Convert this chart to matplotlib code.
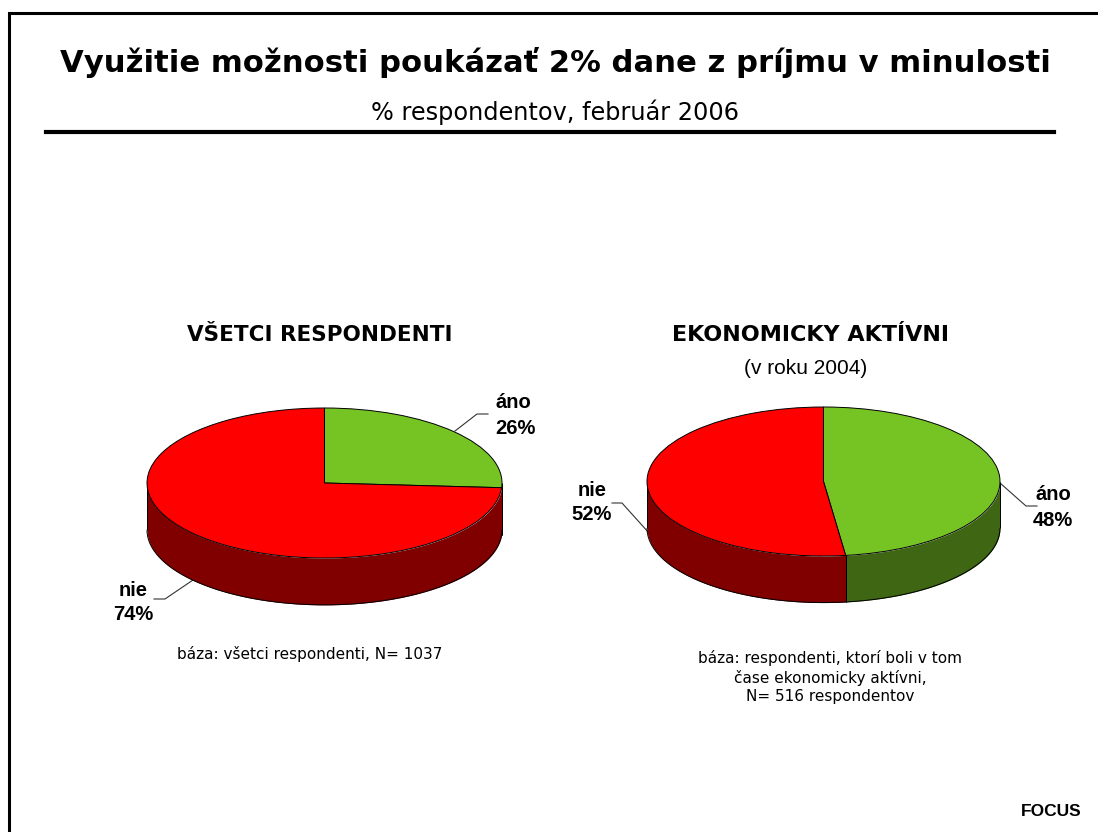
"""Two 3D-style pies: use of the 2% tax assignment, Focus survey, February 2006."""

from __future__ import annotations

import numpy as np
import matplotlib
matplotlib.use("Agg")
import matplotlib.pyplot as plt

W, H = 1098, 832

LABELS = ["áno", "nie"]
ALL_RESPONDENTS = [26, 74]
ECON_ACTIVE = [48, 52]

TOP_COLORS = ["#76c424", "#ff0000"]
SIDE_COLORS = ["#3e6613", "#800000"]

TITLE = "Využitie možnosti poukázať 2% dane z príjmu v minulosti"
SUBTITLE = "% respondentov, február 2006"
LEFT_HEAD = "VŠETCI RESPONDENTI"
RIGHT_HEAD = "EKONOMICKY AKTÍVNI"
RIGHT_SUB = "(v roku 2004)"
LEFT_BASE = "báza: všetci respondenti, N= 1037"
RIGHT_BASE = "báza: respondenti, ktorí boli v tom\nčase ekonomicky aktívni,\nN= 516 respondentov"

DEPTH = 0.625  # wall height in units of the vertical radius


def draw_pie(fig, values, cx, cy, rx, ry):
    # axes is stretched so that the unit circle comes out as the flat ellipse
    bottom = cy + ry + DEPTH * ry
    ax = fig.add_axes([(cx - rx) / W, 1 - bottom / H, 2 * rx / W, (bottom - cy + ry) / H])
    start = 90.0
    for val, side in zip(values, SIDE_COLORS):
        end = start - val * 3.6
        # only the front half of the rim (0 to -180 deg) shows a wall
        a, b = max(end, -180.0), min(start, 0.0)
        if b > a:
            t = np.radians(np.linspace(a, b, 200))
            ax.fill_between(np.cos(t), np.sin(t), np.sin(t) - DEPTH, color=side, lw=0, zorder=1)
            ax.plot(np.cos(t), np.sin(t) - DEPTH, color="black", lw=0.7, zorder=2, solid_capstyle="butt")
            for x, y in ((np.cos(t[0]), np.sin(t[0])), (np.cos(t[-1]), np.sin(t[-1]))):
                ax.plot([x, x], [y, y - DEPTH], color="black", lw=0.7, zorder=2, solid_capstyle="butt")
        start = end
    wedges, _ = ax.pie(values, colors=TOP_COLORS, startangle=90, counterclock=False, radius=1.0,
                       wedgeprops={"edgecolor": "black", "linewidth": 0.7})
    for w in wedges:
        w.set_zorder(3)
    ax.set_aspect("auto")
    ax.set_xlim(-1, 1)
    ax.set_ylim(-1 - DEPTH, 1)
    ax.axis("off")
    for s in ax.collections + ax.lines + wedges:
        s.set_clip_on(False)
    return ax


def main() -> None:
    fig = plt.figure(figsize=(W / 100, H / 100), dpi=100, facecolor="white")
    page = fig.add_axes([0, 0, 1, 1])
    page.set_xlim(0, W)
    page.set_ylim(H, 0)
    page.axis("off")

    # frame and rule
    page.plot([9, 9, W], [H, 13, 13], color="black", lw=2.2, solid_joinstyle="miter")
    page.plot([46, 1054], [132, 132], color="black", lw=3)

    page.text(555, 62, TITLE, ha="center", va="center", fontsize=22.1, weight="bold", family="DejaVu Sans")
    page.text(555, 112, SUBTITLE, ha="center", va="center", fontsize=17.3, family="DejaVu Sans")

    page.text(320, 335, LEFT_HEAD, ha="center", va="center", fontsize=15.5, weight="bold", family="DejaVu Sans")
    page.text(811, 335, RIGHT_HEAD, ha="center", va="center", fontsize=16, weight="bold", family="DejaVu Sans")
    page.text(806, 368, RIGHT_SUB, ha="center", va="center", fontsize=15, family="Liberation Sans")

    draw_pie(fig, ALL_RESPONDENTS, 324.5, 483, 177.5, 75)
    draw_pie(fig, ECON_ACTIVE, 823.5, 481.5, 176.5, 74.5)

    # callouts
    page.plot([455, 477, 488], [431, 414, 414], color="#333333", lw=0.8)
    page.plot([193, 165, 154], [580, 599, 599], color="#333333", lw=0.8)
    page.plot([1000, 1026, 1037], [483, 506, 506], color="#333333", lw=0.8)
    page.plot([649, 622, 612], [533, 503, 503], color="#333333", lw=0.8)

    bold = dict(ha="center", va="center", fontsize=14.5, weight="bold", family="Liberation Sans")
    page.text(513, 403, LABELS[0], **bold)
    page.text(515, 428, f"{ALL_RESPONDENTS[0]}%", **bold)
    page.text(133, 590, LABELS[1], **bold)
    page.text(133, 614, f"{ALL_RESPONDENTS[1]}%", **bold)
    page.text(1053, 495, LABELS[0], **bold)
    page.text(1053, 520, f"{ECON_ACTIVE[0]}%", **bold)
    page.text(592, 490, LABELS[1], **bold)
    page.text(592, 515, f"{ECON_ACTIVE[1]}%", **bold)

    page.text(310, 654, LEFT_BASE, ha="center", va="center", fontsize=11, family="DejaVu Sans")
    page.text(830, 677, RIGHT_BASE, ha="center", va="center", fontsize=11, family="DejaVu Sans", linespacing=1.3)

    page.text(1051, 811, "FOCUS", ha="center", va="center", fontsize=12.5, weight="bold", family="Liberation Sans")

    fig.savefig("out.png", dpi=100)


if __name__ == "__main__":
    main()
